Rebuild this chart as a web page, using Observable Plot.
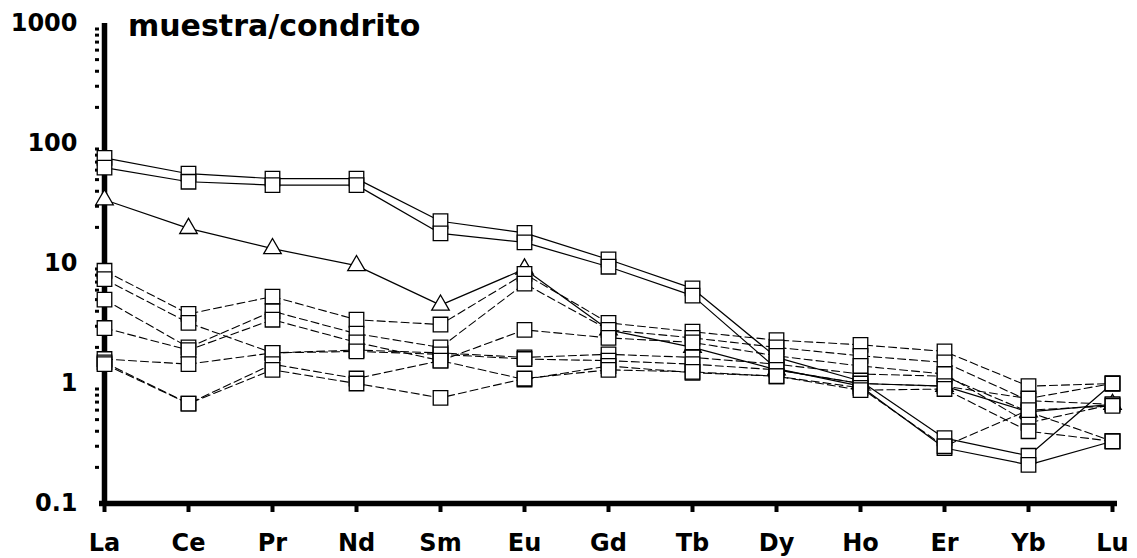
<!DOCTYPE html>
<html>
<head>
<meta charset="utf-8">
<script src="https://cdn.jsdelivr.net/npm/d3@7"></script>
<script src="https://cdn.jsdelivr.net/npm/@observablehq/plot@0.6"></script>
<style>
  html, body { margin: 0; padding: 0; background: #fff; }
  #wrap { position: relative; width: 1137px; height: 558px; }
  #title { position: absolute; left: 128px; top: 11px; font-family: "DejaVu Sans", sans-serif; font-weight: bold; font-size: 30px; line-height: 30px; color: #000; }
</style>
</head>
<body>
<div id="wrap"><div id="title">muestra/condrito</div></div>
<script>
const elements = ["La","Ce","Pr","Nd","Sm","Eu","Gd","Tb","Dy","Ho","Er","Yb","Lu"];
const yTicks = [0.1, 1, 10, 100, 1000];
const yTickLabels = ["0.1", "1", "10", "100", "1000"];

// solid series (squares)
const solidA = [76, 56, 51, 51, 22.5, 18, 10.8, 6.2, 1.65, 1.05, 0.35, 0.25, 1.0];
const solidB = [63, 48, 45, 45, 17.8, 15, 9.4, 5.4, 1.33, 0.95, 0.29, 0.21, 0.33];
// solid series (triangles)
const solidTri = [34, 19.6, 13.3, 9.6, 4.5, 9.0, 2.8, 2.0, 1.3, 1.0, 0.95, 0.58, 0.67];
// dashed series (squares)
const dashed1 = [8.7, 3.8, 5.3, 3.4, 3.1, 8.2, 3.2, 2.7, 2.3, 2.1, 1.85, 0.95, 1.0];
const dashed2 = [7.4, 3.2, 1.8, 1.9, 1.8, 1.65, 1.75, 1.65, 1.45, 1.2, 1.15, 0.58, 0.33];
const dashed3 = [5.0, 2.0, 4.0, 2.6, 2.0, 6.8, 2.8, 2.4, 2.0, 1.7, 1.5, 0.72, 0.67];
const dashed4 = [2.9, 1.9, 3.4, 2.2, 1.55, 2.8, 2.4, 2.2, 1.7, 1.4, 1.2, 0.47, 0.67];
const dashed5 = [1.6, 1.45, 1.8, 1.85, 1.75, 1.6, 1.55, 1.45, 1.3, 1.0, 0.95, 0.75, 1.0];
const dashed6 = [1.5, 0.68, 1.45, 1.1, 1.55, 1.08, 1.4, 1.23, 1.15, 0.92, 0.3, 0.6, 0.65];
const dashed7 = [1.45, 0.68, 1.3, 1.0, 0.76, 1.1, 1.3, 1.25, 1.15, 0.88, 0.9, 0.4, 0.33];

const series = [
  {name: "A", values: solidA, dash: false, symbol: "square"},
  {name: "B", values: solidB, dash: false, symbol: "square"},
  {name: "T", values: solidTri, dash: false, symbol: "triangle"},
  {name: "D1", values: dashed1, dash: true, symbol: "square"},
  {name: "D2", values: dashed2, dash: true, symbol: "square"},
  {name: "D3", values: dashed3, dash: true, symbol: "square"},
  {name: "D4", values: dashed4, dash: true, symbol: "square"},
  {name: "D5", values: dashed5, dash: true, symbol: "square"},
  {name: "D6", values: dashed6, dash: true, symbol: "square"},
  {name: "D7", values: dashed7, dash: true, symbol: "square"}
];
const rows = series.flatMap(s => s.values.map((v, i) => ({series: s.name, el: elements[i], v, dash: s.dash, symbol: s.symbol})));

const minorTicks = [];
for (const d of [0.1, 1, 10, 100]) for (const k of [2,3,4,5,6,7,8,9]) minorTicks.push(+(d * k).toPrecision(3));

const chart = Plot.plot({
  width: 1137,
  height: 558,
  marginTop: 23,
  marginBottom: 55,
  marginLeft: 99,
  marginRight: 20,
  style: {fontFamily: "DejaVu Sans, sans-serif", fontWeight: "bold", background: "#fff", color: "#000"},
  x: {type: "point", domain: elements, padding: 0, label: null},
  y: {type: "log", domain: [0.1, 1000], label: null},
  marks: [
    Plot.axisY(minorTicks, {tickSize: 4, strokeWidth: 3, tickFormat: () => "", label: null}),
    Plot.axisY(yTicks, {tickSize: 0, tickPadding: 22, fontSize: 24, fontWeight: "bold",
      tickFormat: d => yTickLabels[yTicks.indexOf(d)], label: null}),
    Plot.axisX({tickSize: 9, tickPadding: 21, strokeWidth: 4, fontSize: 24, fontWeight: "bold", label: null}),
    Plot.ruleX(["La"], {stroke: "#000", strokeWidth: 5.5}),
    Plot.ruleY([0.1], {stroke: "#000", strokeWidth: 5.5}),
    Plot.line(rows.filter(d => d.dash), {x: "el", y: "v", z: "series", stroke: "#000", strokeWidth: 1.1, strokeDasharray: "8,4"}),
    Plot.line(rows.filter(d => !d.dash), {x: "el", y: "v", z: "series", stroke: "#000", strokeWidth: 1.2}),
    Plot.dot(rows.filter(d => d.symbol === "triangle"), {x: "el", y: "v", symbol: "triangle", r: 6.5, fill: "#fff", stroke: "#000", strokeWidth: 1.3}),
    Plot.dot(rows.filter(d => d.symbol === "square"), {x: "el", y: "v", symbol: "square", r: 8.2, fill: "#fff", stroke: "#000", strokeWidth: 1.3})
  ]
});
document.getElementById("wrap").prepend(chart);
</script>
</body>
</html>
